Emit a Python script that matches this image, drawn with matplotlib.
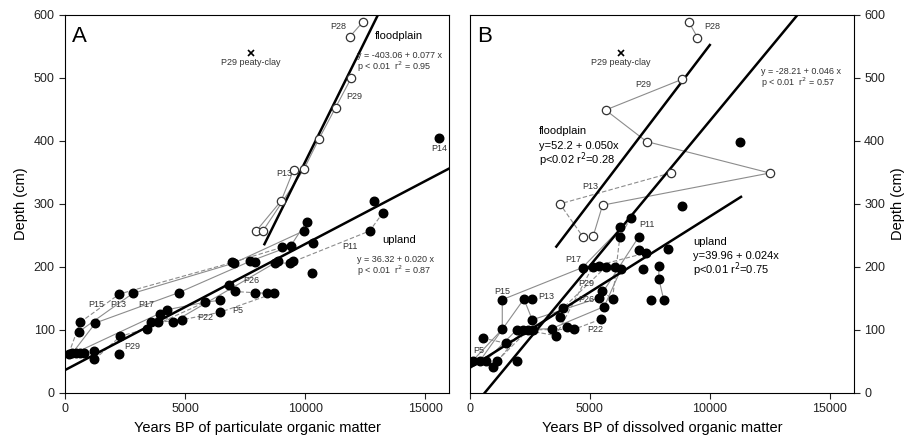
import numpy as np
import matplotlib
matplotlib.use("Agg")
import matplotlib.pyplot as plt

plt.rcParams['font.family'] = ['Liberation Sans', 'DejaVu Sans']

# ---- Panel A: particulate organic matter ----
a_up_x = [150, 300, 450, 600, 800, 625, 569, 1264, 1222, 1222, 2264, 2306,
          2264, 2819, 3417, 3556, 3861, 3931, 4250, 4486, 4722, 4861, 5833,
          6458, 6458, 6819, 7055, 7889, 8417, 8694, 6958, 7028, 7708, 7917,
          8722, 8861, 9347, 9486, 9028, 9389, 9931, 10055, 10319, 10292,
          12680, 12861, 13236, 15569]
a_up_y = [62, 63, 64, 64, 63, 112, 97, 111, 66, 53, 62, 90,
          157, 158, 102, 112, 112, 126, 132, 112, 159, 116, 144,
          147, 128, 171, 161, 159, 158, 158, 207, 206, 209, 207,
          206, 209, 206, 209, 231, 233, 257, 272, 238, 190,
          257, 304, 286, 405]
a_fl_x = [12404, 11847, 11917, 11264, 10569, 9944, 9514, 9000, 7958, 8236]
a_fl_y = [589, 565, 500, 453, 403, 355, 354, 305, 257, 257]

# profiles joined by thin grey lines (x, y, dashed)
a_profiles = [
    ([150, 625, 2264, 6958, 9028], [62, 112, 157, 207, 231], True),
    ([300, 1264, 4722, 7708, 9389, 10055], [63, 111, 159, 209, 233, 272], False),
    ([569, 2819, 7028, 9931], [97, 158, 206, 257], False),
    ([6819, 7055, 7889, 8417], [171, 161, 159, 158], True),
    ([8722, 9347, 12680, 13236], [206, 206, 257, 286], True),
    ([3556, 4250, 5833, 6458], [112, 132, 144, 147], False),
    ([3861, 4861, 6458, 8694], [112, 116, 128, 158], True),
    ([1222, 2306, 3417, 5833], [53, 90, 102, 144], True),
    ([450, 3931, 4486, 8861], [64, 126, 112, 209], False),
    ([12404, 11847], [589, 565], False),
    ([11917, 11264, 10569, 9944, 8236], [500, 453, 403, 355, 257], False),
    ([9514, 9000, 7958], [354, 305, 257], False),
]
a_fit_fl = (-403.06, 0.077, 8300, 13100)
a_fit_up = (36.32, 0.020, 0, 16000)

# ---- Panel B: dissolved organic matter ----
b_up_x = [111, 417, 667, 1139, 944, 1944, 528, 1486, 1347, 1944, 2222, 2431,
          2611, 2597, 1347, 2250, 2597, 3403, 3583, 4028, 4347, 3750, 3861,
          5458, 5597, 5389, 5514, 5944, 4694, 5111, 5389, 5667, 6042, 6292,
          7194, 7875, 7875, 7528, 8083, 7042, 7319, 8264, 6250, 7042, 6250,
          6708, 8861, 11250]
b_up_y = [51, 51, 51, 51, 41, 51, 87, 79, 101, 100, 100, 100,
          100, 116, 148, 149, 149, 102, 91, 104, 101, 121, 134,
          117, 137, 151, 161, 149, 199, 200, 201, 200, 200, 196,
          197, 201, 181, 147, 147, 227, 222, 229, 248, 248, 263,
          278, 296, 399]
b_fl_x = [9138, 9486, 8861, 5653, 7361, 12500, 8361, 3750, 5528, 4722, 5139]
b_fl_y = [588, 564, 498, 449, 399, 349, 349, 300, 298, 247, 249]

b_profiles = [
    ([111, 1347, 1347, 4694, 6708], [51, 101, 148, 199, 278], False),
    ([417, 2250, 2597, 5389, 7042], [51, 149, 116, 151, 248], False),
    ([6708, 6250, 5944, 5514], [278, 248, 149, 161], True),
    ([944, 2222, 3583, 5111, 7319], [41, 100, 91, 200, 222], True),
    ([1139, 2431, 4347, 5458], [51, 100, 101, 117], True),
    ([667, 1944, 3403, 5597, 6292], [51, 100, 102, 137, 196], False),
    ([528, 1486, 2611, 3861, 5667], [87, 79, 100, 134, 200], True),
    ([7875, 7875, 8083], [201, 181, 147], False),
    ([9138, 9486], [588, 564], False),
    ([8861, 5653, 7361, 12500, 5528, 5139], [498, 449, 399, 349, 298, 249], False),
    ([8361, 3750, 4722], [349, 300, 247], True),
]
b_fit_fl = (52.2, 0.050, 3600, 10000)
b_fit_a = (-28.21, 0.046, 613, 13700)
b_fit_up = (39.96, 0.024, 0, 11300)

fig = plt.figure(figsize=(9.17, 4.38), dpi=100)
axA = fig.add_axes([0.071, 0.103, 0.419, 0.863])
axB = fig.add_axes([0.5125, 0.103, 0.4185, 0.863])

grey = '#8c8c8c'


def draw_panel(ax, profiles, up_x, up_y, fl_x, fl_y, fits):
    for xs, ys, dashed in profiles:
        ax.plot(xs, ys, color=grey, lw=0.8, ls=(0, (4, 2)) if dashed else '-', zorder=2)
    for b0, b1, x0, x1 in fits:
        xx = np.array([x0, x1])
        ax.plot(xx, b0 + b1 * xx, color='black', lw=1.8, zorder=3)
    ax.scatter(up_x, up_y, s=38, color='black', zorder=4)
    ax.scatter(fl_x, fl_y, s=36, facecolor='white', edgecolor='#333333', lw=0.9, zorder=4)
    ax.set_xlim(0, 16000)
    ax.set_ylim(0, 600)
    ax.set_xticks([0, 5000, 10000, 15000])
    ax.set_yticks(range(0, 601, 100))
    ax.tick_params(labelsize=9, direction='out', length=4, width=0.8, colors='#222222')
    for s in ax.spines.values():
        s.set_linewidth(0.8)


draw_panel(axA, a_profiles, a_up_x, a_up_y, a_fl_x, a_fl_y, [a_fit_fl, a_fit_up])
draw_panel(axB, b_profiles, b_up_x, b_up_y, b_fl_x, b_fl_y, [b_fit_fl, b_fit_a, b_fit_up])

axA.set_xlabel('Years BP of particulate organic matter', fontsize=10.5, labelpad=4)
axA.set_ylabel('Depth (cm)', fontsize=10.5)
axB.set_xlabel('Years BP of dissolved organic matter', fontsize=10.5, labelpad=4)
axB.yaxis.tick_right()
axB.yaxis.set_label_position('right')
axB.set_ylabel('Depth (cm)', fontsize=10.5)

small = dict(fontsize=6.5, color='#333333')

# panel A texts
axA.text(300, 583, 'A', fontsize=16, va='top')
axA.plot([7750], [540], marker='x', color='black', ms=4, mew=1.2)
axA.text(7750, 525, 'P29 peaty-clay', ha='center', va='center', **small)
axA.text(11700, 582, 'P28', ha='right', va='center', **small)
axA.text(13900, 567, 'floodplain', ha='center', va='center', fontsize=8)
axA.text(12150, 536, 'y = -403.06 + 0.077 x', va='center', **small)
axA.text(12150, 518, 'p < 0.01  r$^2$ = 0.95', va='center', **small)
axA.text(12050, 470, 'P29', ha='center', va='center', **small)
axA.text(9450, 348, 'P13', ha='right', va='center', **small)
axA.text(15569, 388, 'P14', ha='center', va='center', **small)
axA.text(13930, 243, 'upland', ha='center', va='center', fontsize=8)
axA.text(12150, 211, 'y = 36.32 + 0.020 x', va='center', **small)
axA.text(12150, 193, 'p < 0.01  r$^2$ = 0.87', va='center', **small)
axA.text(11850, 232, 'P11', ha='center', va='center', **small)
axA.text(7750, 179, 'P26', ha='center', va='center', **small)
axA.text(7170, 131, 'P5', ha='center', va='center', **small)
axA.text(5830, 119, 'P22', ha='center', va='center', **small)
axA.text(2780, 74, 'P29', ha='center', va='center', **small)
axA.text(1290, 140, 'P15', ha='center', va='center', **small)
axA.text(2220, 141, 'P13', ha='center', va='center', **small)
axA.text(3380, 141, 'P17', ha='center', va='center', **small)

# panel B texts
axB.text(300, 583, 'B', fontsize=16, va='top')
axB.plot([6280], [540], marker='x', color='black', ms=4, mew=1.2)
axB.text(6280, 525, 'P29 peaty-clay', ha='center', va='center', **small)
axB.text(9750, 582, 'P28', ha='left', va='center', **small)
axB.text(7220, 489, 'P29', ha='center', va='center', **small)
axB.text(2880, 415, 'floodplain', va='center', fontsize=8)
axB.text(2880, 392, 'y=52.2 + 0.050x', va='center', fontsize=8)
axB.text(2880, 370, 'p<0.02 r$^2$=0.28', va='center', fontsize=8)
axB.text(12150, 510, 'y = -28.21 + 0.046 x', va='center', **small)
axB.text(12150, 492, 'p < 0.01  r$^2$ = 0.57', va='center', **small)
axB.text(5000, 327, 'P13', ha='center', va='center', **small)
axB.text(7360, 267, 'P11', ha='center', va='center', **small)
axB.text(9300, 240, 'upland', va='center', fontsize=8)
axB.text(9300, 217, 'y=39.96 + 0.024x', va='center', fontsize=8)
axB.text(9300, 195, 'p<0.01 r$^2$=0.75', va='center', fontsize=8)
axB.text(4300, 211, 'P17', ha='center', va='center', **small)
axB.text(4860, 173, 'P29', ha='center', va='center', **small)
axB.text(4860, 149, 'P26', ha='center', va='center', **small)
axB.text(3170, 153, 'P13', ha='center', va='center', **small)
axB.text(1360, 161, 'P15', ha='center', va='center', **small)
axB.text(350, 67, 'P5', ha='center', va='center', **small)
axB.text(5210, 100, 'P22', ha='center', va='center', **small)

fig.savefig('out.png', dpi=100)
